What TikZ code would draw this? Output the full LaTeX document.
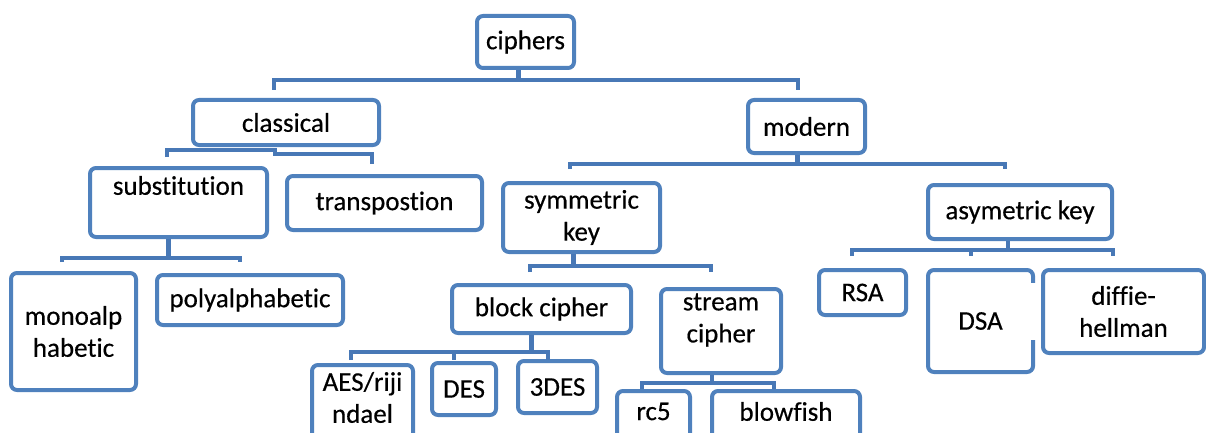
\documentclass[tikz,border=0pt]{standalone}
\usepackage{fontspec}
\setmainfont{Carlito}[RawFeature={-liga}, FakeBold=0.4]
\usepackage{xcolor}
\usetikzlibrary{positioning}

\definecolor{boxblue}{HTML}{4F81BD}
\definecolor{linkblue}{HTML}{4878B6}

\begin{document}
\begin{tikzpicture}[x=1pt, y=-1pt,
  box/.style={draw=boxblue, line width=4pt, rounded corners=6pt, fill=white,
    align=center, inner sep=0pt, font=\fontsize{27}{32}\selectfont},
  txt/.style={align=center, inner sep=0pt, font=\fontsize{27}{32}\selectfont},
  link/.style={draw=linkblue, line width=4.5pt}
]
  \useasboundingbox (0,0) rectangle (1206,433);

  % ======= top =======
  \node[box, minimum width=97pt, minimum height=52pt] (ciphers) at (525.5,42) {ciphers};
  \node[box, minimum width=186pt, minimum height=45pt] (classical) at (286,122.5) {classical};
  \node[box, minimum width=117pt, minimum height=53pt] (modern) at (806.5,126.5) {modern};

  \coordinate (classical-in) at (274,90);
  \coordinate (modern-in) at (798,90);
  \draw[link] ([xshift=-7pt]ciphers.south) -- ++(0,10) coordinate (top-bus);
  \draw[link] (classical-in) |- (top-bus) -| (modern-in);

  % ======= classical =======
  \node[box, minimum width=177pt, minimum height=69pt,
    label={[txt, yshift=17pt]center:substitution}] (subst) at (178.5,202.5) {};
  \node[box, minimum width=195pt, minimum height=54pt] (transp) at (384.5,203) {transpostion};

  \coordinate (subst-in) at (167,157);
  \coordinate (transp-in) at (372,164);
  % stepped bus under classical
  \draw[link] (subst-in) |- ([xshift=-11pt, yshift=-3pt]classical.south) -- ++(0,4) -| (transp-in);

  \node[box, minimum width=125pt, minimum height=117pt] (mono) at (73.5,331.5) {monoalp\\habetic};
  \node[box, minimum width=186pt, minimum height=50pt] (poly) at (250,300) {polyalphabetic};

  \coordinate (mono-in) at (62,262);
  \coordinate (poly-in) at (240,262);
  \draw[link] ([xshift=-10pt]subst.south) -- ++(0,19) coordinate (subst-bus);
  \draw[link] (mono-in) |- (subst-bus) -| (poly-in);

  % ======= modern =======
  \node[box, minimum width=157pt, minimum height=69pt] (sym) at (581.5,217.5) {symmetric\\key};
  \node[box, minimum width=184pt, minimum height=54pt] (asym) at (1020,212) {asymetric key};

  \coordinate (sym-in) at (570,169);
  \coordinate (asym-in) at (1005,169);
  \draw[link] ([xshift=-9pt]modern.south) -- ++(0,9) coordinate (modern-bus);
  \draw[link] (sym-in) |- (modern-bus) -| (asym-in);

  % symmetric key
  \node[box, minimum width=179pt, minimum height=48pt] (block) at (541.5,309) {block cipher};
  \node[box, minimum width=120pt, minimum height=84pt,
    label={[txt, yshift=11pt]center:stream\\cipher}] (stream) at (721,331) {};

  \coordinate (block-in) at (530,272);
  \coordinate (stream-in) at (711,272);
  \draw[link] ([xshift=-8pt]sym.south) -- ++(0,12) coordinate (sym-bus);
  \draw[link] (block-in) |- (sym-bus) -| (stream-in);

  % block cipher
  \node[box, minimum width=101pt, minimum height=85pt,
    label={[txt, yshift=10pt]center:AES/riji\\ndael}] (aes) at (362.5,407.5) {};
  \node[box, minimum width=64pt, minimum height=52pt] (des) at (464,389) {DES};
  \node[box, minimum width=79pt, minimum height=52pt] (tdes) at (557.5,387) {3DES};

  \coordinate (aes-in) at (351,360);
  \coordinate (des-in) at (454,360);
  \coordinate (tdes-in) at (548,360);
  \draw[link] ([xshift=-10pt]block.south) -- ++(0,17) coordinate (block-bus);
  \draw[link] (aes-in) |- (block-bus) -| (tdes-in);
  \draw[link] (block-bus -| des-in) -- (des-in);

  % stream cipher
  \node[box, minimum width=73pt, minimum height=59pt,
    label={[txt, yshift=9pt]center:rc5}] (rc5) at (653.5,420.5) {};
  \node[box, minimum width=148pt, minimum height=59pt,
    label={[txt, yshift=9pt]center:blowfish}] (blowfish) at (786,420.5) {};

  \coordinate (rc5-in) at (642,389);
  \coordinate (blowfish-in) at (774,389);
  \draw[link] ([xshift=-9pt]stream.south) -- ++(0,8) coordinate (stream-bus);
  \draw[link] (rc5-in) |- (stream-bus) -| (blowfish-in);

  % asymetric key
  \node[box, minimum width=87pt, minimum height=45pt] (rsa) at (862.5,292.5) {RSA};
  \node[box, minimum width=105pt, minimum height=102pt] (dsa) at (980.5,321) {DSA};
  \node[box, minimum width=161pt, minimum height=83pt] (dh) at (1123.5,311.5) {diffie-\\hellman};
  \fill[white] (1029,283) rectangle (1038,340);

  \coordinate (rsa-in) at (852,256);
  \coordinate (dsa-in) at (971,256);
  \coordinate (dh-in) at (1113,256);
  \draw[link] ([xshift=-12pt]asym.south) -- ++(0,9) coordinate (asym-bus);
  \draw[link] (rsa-in) |- (asym-bus) -| (dh-in);
  \draw[link] (asym-bus -| dsa-in) -- (dsa-in);

\end{tikzpicture}
\end{document}
